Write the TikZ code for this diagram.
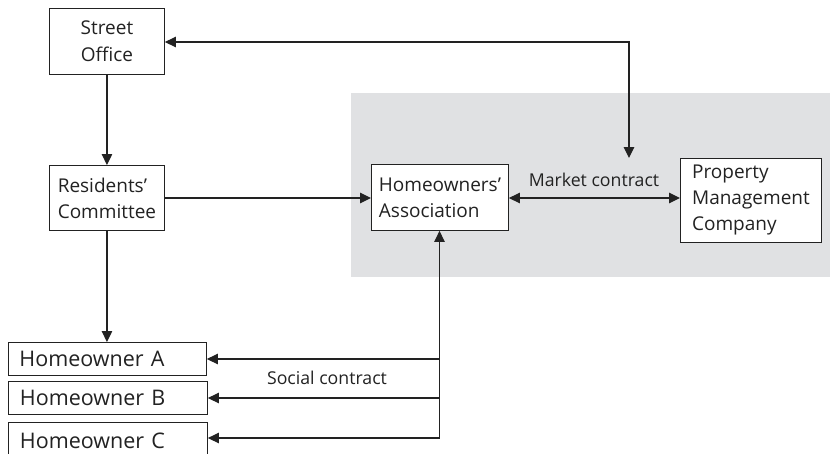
\documentclass[tikz,border=0pt]{standalone}
\usepackage{fontspec}
\setmainfont{Open Sans}
\usetikzlibrary{arrows.meta}
\definecolor{panel}{HTML}{E0E1E3}
\definecolor{ink}{HTML}{222222}
\begin{document}
\begin{tikzpicture}[x=1pt,y=-1pt,
  box/.style={draw=ink,line width=0.9pt,fill=white,inner sep=0pt,anchor=north west,
    align=left,font=\fontsize{19}{26}\selectfont,text=ink},
  owner/.style={box,font=\fontsize{21.5}{24}\selectfont,inner xsep=11pt,
    text width=176pt,minimum height=33pt},
  link/.style={draw=ink,line width=1.2pt,-{Triangle[length=11pt,width=10.5pt]}},
  twoway/.style={draw=ink,line width=1.2pt,{Triangle[length=11pt,width=10.5pt]}-{Triangle[length=11pt,width=10.5pt]}},
  lbl/.style={font=\fontsize{17.7}{20}\selectfont,text=ink,inner sep=0pt}]
\useasboundingbox (0,0) rectangle (830,453);
% shaded market panel
\fill[panel] (351,93) rectangle (830,277);
% boxes
\node[box,minimum width=115pt,minimum height=66pt,align=center,font=\fontsize{19}{27}\selectfont] (so) at (49,8) {Street\\Office};
\node[box,minimum width=115pt,minimum height=65pt] (rc) at (49,165) {Residents'\\Committee};
\node[box,minimum width=137pt,minimum height=66pt] (ha) at (371,164) {Homeowners'\\Association};
\node[box,minimum width=141pt,minimum height=84pt] (pm) at (680,158) {Property\\Management\\Company};
\node[owner] (hA) at (8,342) {Homeowner A};
\node[owner,inner xsep=11.5pt] (hB) at (8,381) {Homeowner B};
\node[owner,inner xsep=11.5pt,minimum height=37pt] (hC) at (8,422) {Homeowner C};
% junction points
\coordinate (top) at (629,42);
\coordinate (jA) at (439.5,359);
\coordinate (jB) at (439.5,398);
\coordinate (jC) at (439.5,438);
% connectors
\draw[link] (so.south) -- (rc.north);
\draw[link] (rc.south) -- (rc.south |- hA.north);
\draw[link] (rc.east |- 0,198) -- (ha.west |- 0,198);
\draw[twoway] (so.east |- top) -- (top) -- (top |- pm.north);
\draw[twoway] (ha.east |- 0,198) -- (pm.west |- 0,198);
\draw[link] (jC) -- (jC |- ha.south);
\draw[link] (jA) -- (hA.east |- jA);
\draw[link] (jB) -- (hB.east |- jB);
\draw[link] (jC) -- (hC.east |- jC);
% contract labels
\node[lbl] (mk) at (594,180) {Market contract};
\node[lbl] (sc) at (327,378) {Social contract};
\end{tikzpicture}
\end{document}
